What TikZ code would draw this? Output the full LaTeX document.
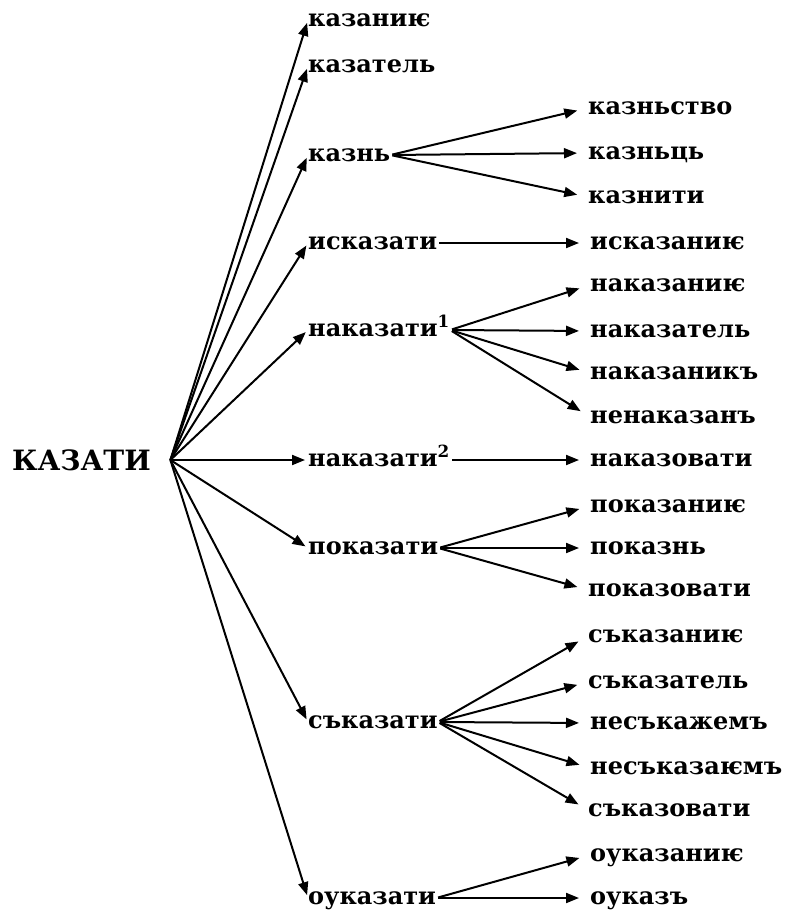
\documentclass[tikz,border=0pt]{standalone}
\usepackage{fontspec}
\setmainfont{DejaVu Serif}
\usetikzlibrary{arrows.meta}
\tikzset{
  word/.style={anchor=west, inner xsep=0pt, inner ysep=0pt, font=\fontsize{24}{27}\selectfont\bfseries, text height=13pt, text depth=0pt},
  rootword/.style={anchor=west, inner xsep=0pt, inner ysep=0pt, font=\fontsize{28}{31}\selectfont\bfseries, text width=158pt, align=left, text height=20pt, text depth=0pt},
  arr/.style={line width=2pt, -{Triangle[length=13pt,width=10pt]}},
  arrA/.style={arr, shorten >=3pt},
  arrB/.style={arr, shorten <=2pt, shorten >=11pt}
}
\begin{document}
\begin{tikzpicture}[x=1pt,y=-1pt]
\useasboundingbox (0,0) rectangle (785,914);
\fill[white] (0,0) rectangle (785,914);
% root
\node[rootword] (root) at (12,460) {КАЗАТИ};
% level 1
\node[word] (a1) at (308,20) {казаниѥ};
\node[word] (a2) at (308,66) {казатель};
\node[word] (a3) at (308,155) {казнь};
\node[word] (a4) at (308,243) {исказати};
\node[word] (a5) at (308,330) {наказати\textsuperscript{1}};
\node[word] (a6) at (308,460) {наказати\textsuperscript{2}};
\node[word] (a7) at (308,548) {показати};
\node[word] (a8) at (308,722) {съказати};
\node[word] (a9) at (308,898) {оуказати};
% level 2
\node[word] (b1) at (588,108) {казньство};
\node[word] (b2) at (588,153) {казньць};
\node[word] (b3) at (588,197) {казнити};
\node[word] (c1) at (590,243) {исказаниѥ};
\node[word] (d1) at (590,285) {наказаниѥ};
\node[word] (d2) at (590,331) {наказатель};
\node[word] (d3) at (590,373) {наказаникъ};
\node[word] (d4) at (590,417) {ненаказанъ};
\node[word] (e1) at (590,460) {наказовати};
\node[word] (f1) at (590,506) {показаниѥ};
\node[word] (f2) at (590,548) {показнь};
\node[word] (f3) at (588,590) {показовати};
\node[word] (g1) at (588,636) {съказаниѥ};
\node[word] (g2) at (588,682) {съказатель};
\node[word] (g3) at (590,723) {несъкажемъ};
\node[word] (g4) at (590,768) {несъказаѥмъ};
\node[word] (g5) at (588,810) {съказовати};
\node[word] (h1) at (590,855) {оуказаниѥ};
\node[word] (h2) at (590,898) {оуказъ};
% level 1 arrows
\foreach \n in {a1,a2,a3,a4,a5,a6,a7,a8,a9}
  \draw[arrA] (root.east) -- (\n.west);
% level 2 arrows
\foreach \n in {b1,b2,b3} \draw[arrB] (a3.east) -- (\n.west);
\draw[arrB] (a4.east) -- (c1.west);
\foreach \n in {d1,d2,d3,d4} \draw[arrB] (a5.east) -- (\n.west);
\draw[arrB] (a6.east) -- (e1.west);
\foreach \n in {f1,f2,f3} \draw[arrB] (a7.east) -- (\n.west);
\foreach \n in {g1,g2,g3,g4,g5} \draw[arrB] (a8.east) -- (\n.west);
\foreach \n in {h1,h2} \draw[arrB] (a9.east) -- (\n.west);
\end{tikzpicture}
\end{document}
